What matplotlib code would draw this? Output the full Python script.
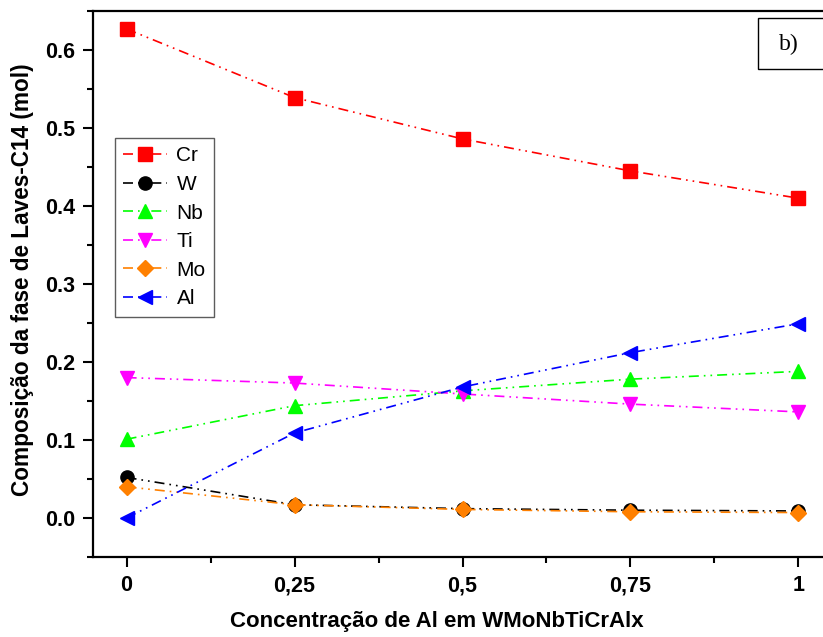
import matplotlib
matplotlib.use("Agg")
import matplotlib.pyplot as plt
from matplotlib.ticker import MultipleLocator, FixedLocator
from matplotlib.patches import Rectangle

x = [0, 0.25, 0.5, 0.75, 1.0]
xticklabels = ["0", "0,25", "0,5", "0,75", "1"]
cr = [0.627, 0.539, 0.486, 0.445, 0.410]
w = [0.052, 0.017, 0.012, 0.010, 0.009]
nb = [0.101, 0.144, 0.163, 0.178, 0.188]
ti = [0.180, 0.173, 0.159, 0.146, 0.136]
mo = [0.040, 0.017, 0.011, 0.008, 0.007]
al = [0.000, 0.109, 0.168, 0.212, 0.249]

series = [
    ("Cr", cr, "#ff0000", "s"),
    ("W", w, "#000000", "o"),
    ("Nb", nb, "#00ff00", "^"),
    ("Ti", ti, "#ff00ff", "v"),
    ("Mo", mo, "#ff8000", "D"),
    ("Al", al, "#0000ff", "<"),
]

plt.rcParams['font.family'] = ['Liberation Sans', 'DejaVu Sans']
fig = plt.figure(figsize=(8.23, 6.37), dpi=100)
ax = fig.add_axes([93/823, 80/637, 739/823, 546/637])

for name, vals, col, mk in series:
    ms = 8.5 if mk == "D" else 9.5
    ax.plot(x, vals, color=col, marker=mk, markersize=ms, lw=1.2,
            dashes=(6, 3, 1, 3, 1, 3), label=name, markeredgecolor=col)

ax.set_xlim(-0.05, 1.05)
ax.set_ylim(-0.05, 0.65)
ax.xaxis.set_major_locator(FixedLocator(x))
ax.set_xticklabels(xticklabels)
ax.xaxis.set_minor_locator(FixedLocator([0.125, 0.375, 0.625, 0.875]))
ax.yaxis.set_major_locator(MultipleLocator(0.1))
ax.yaxis.set_minor_locator(MultipleLocator(0.05))
ax.yaxis.set_major_formatter(matplotlib.ticker.FormatStrFormatter('%.1f'))

for lab in ax.get_xticklabels() + ax.get_yticklabels():
    lab.set_fontweight('bold')
    lab.set_fontsize(15.5)
ax.tick_params(which='major', direction='out', length=7, width=1.5, pad=6)
ax.tick_params(which='minor', direction='out', length=4, width=1.5)
for sp in ax.spines.values():
    sp.set_linewidth(1.6)


def axx(px):
    return (px - 93) / 739


def axy(py):
    return (557 - py) / 546


ax.set_xlabel("Concentração de Al em WMoNbTiCrAlx", fontsize=16, fontweight='bold')
ax.set_ylabel("Composição da fase de Laves-C14 (mol)", fontsize=16.3, fontweight='bold')
ax.xaxis.set_label_coords(axx(437), axy(622), transform=ax.transAxes)
ax.xaxis.label.set_va('center')
ax.yaxis.set_label_coords(axx(23), axy(280), transform=ax.transAxes)
ax.yaxis.label.set_va('center')

leg = ax.legend(loc='upper left', bbox_to_anchor=(axx(115), axy(138)), fontsize=15,
                frameon=True, fancybox=False, edgecolor='#333333', handlelength=2.1,
                borderpad=0.4, labelspacing=0.46, handletextpad=0.45, borderaxespad=0)
leg.get_frame().set_linewidth(1.0)

ax.add_patch(Rectangle((axx(758), axy(69)), axx(835) - axx(758), axy(18) - axy(69),
                       transform=ax.transAxes, fc='white', ec='black', lw=1.0,
                       clip_on=False, zorder=5))
ax.text(axx(789), axy(44), "b)", transform=ax.transAxes, fontsize=17,
        family='Liberation Serif', ha='center', va='center', zorder=6)

fig.savefig("out.png", dpi=100)
